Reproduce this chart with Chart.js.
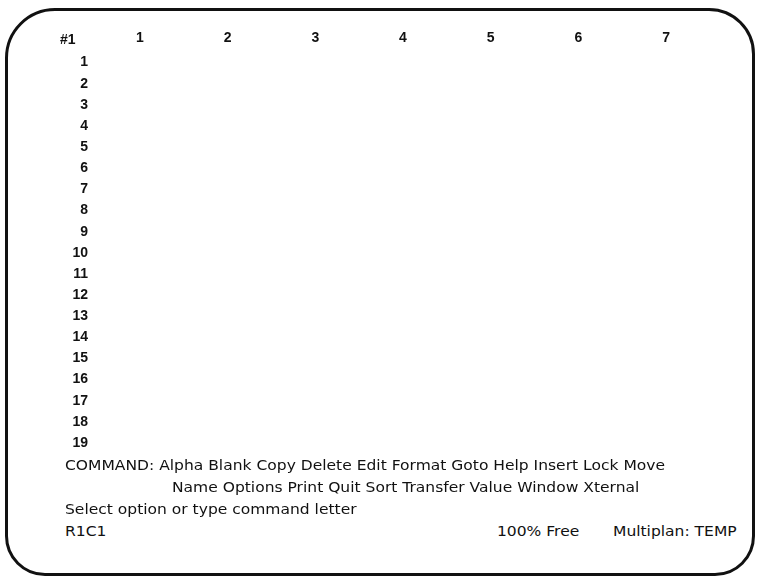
<!DOCTYPE html>
<html>
<head>
<meta charset="utf-8">
<script src="https://cdn.jsdelivr.net/npm/chart.js@4.4.1/dist/chart.umd.min.js"></script>
<style>
  body { margin: 0; background: #fff; width: 760px; height: 583px; overflow: hidden; font-family: "DejaVu Sans", Arial, sans-serif; color: #111; }
  .frame { position: absolute; left: 5px; top: 8px; width: 750px; height: 568px; box-sizing: border-box;
           border: 3px solid #111; border-radius: 50px 46px 40px 40px; }
  #sheet { position: absolute; left: 0; top: 0; }
  .line { position: absolute; font-size: 14px; line-height: 16px; white-space: pre; transform-origin: left center; }
</style>
</head>
<body>
<div class="frame"></div>
<canvas id="sheet" width="760" height="470"></canvas>
<div class="line" id="cmd1" style="left:65px; top:457px"></div>
<div class="line" id="cmd2" style="left:172px; top:479px"></div>
<div class="line" id="msg" style="left:65px; top:501px"></div>
<div class="line" id="cell" style="left:65px; top:523px"></div>
<div class="line" id="free" style="left:497px; top:523px"></div>
<div class="line" id="file" style="left:613px; top:523px"></div>
<script>
// window #1, columns and rows of an empty sheet
const windowName = '#1';
const columns = ['1', '2', '3', '4', '5', '6', '7'];
const rows = ['1', '2', '3', '4', '5', '6', '7', '8', '9', '10',
              '11', '12', '13', '14', '15', '16', '17', '18', '19'];
const cells = [];   // nothing entered yet

const commandLine1 = 'COMMAND: Alpha Blank Copy Delete Edit Format Goto Help Insert Lock Move';
const commandLine2 = 'Name Options Print Quit Sort Transfer Value Window Xternal';
const messageLine = 'Select option or type command letter';
const activeCell = 'R1C1';
const freeSpace = '100% Free';
const fileName = 'Multiplan: TEMP';

// status lines; the command line sets how wide the screen font runs
const lineIds = ['cmd1', 'cmd2', 'msg', 'cell', 'free', 'file'];
const lineTexts = [commandLine1, commandLine2, messageLine, activeCell, freeSpace, fileName];
lineIds.forEach((id, i) => { document.getElementById(id).textContent = lineTexts[i]; });
const stretch = 600 / document.getElementById('cmd1').getBoundingClientRect().width;
lineIds.forEach(id => { document.getElementById(id).style.transform = 'scaleX(' + stretch + ')'; });

const tickFont = { family: '"Liberation Sans", Arial, sans-serif', size: 14, weight: 'bold' };

// "#1" sits in the corner where the two header rows meet
const cornerLabel = {
    id: 'cornerLabel',
    afterDraw(chart) {
        const ctx = chart.ctx;
        ctx.save();
        ctx.font = 'bold 14px "Liberation Sans", Arial, sans-serif';
        ctx.fillStyle = '#111';
        ctx.textBaseline = 'middle';
        ctx.fillText(windowName, 60, 40);
        ctx.restore();
    }
};

new Chart(document.getElementById('sheet').getContext('2d'), {
    type: 'line',
    data: {
        labels: columns,
        datasets: [{ data: cells, showLine: false, pointRadius: 0 }]
    },
    options: {
        responsive: false,
        animation: false,
        layout: { padding: { left: 0, right: 50, top: 0, bottom: 8 } },
        plugins: { legend: { display: false }, tooltip: { enabled: false } },
        scales: {
            x: {
                type: 'category',
                position: 'top',
                offset: true,
                grid: { display: false, drawTicks: false },
                border: { display: false },
                ticks: { color: '#111', font: tickFont, padding: 5, maxRotation: 0 },
                afterFit(scale) { scale.height = 52; }
            },
            y: {
                type: 'category',
                labels: rows,
                offset: true,
                grid: { display: false, drawTicks: false },
                border: { display: false },
                ticks: { color: '#111', font: tickFont, padding: 8, autoSkip: false },
                afterFit(scale) { scale.width = 96; }
            }
        }
    },
    plugins: [cornerLabel]
});
</script>
</body>
</html>
